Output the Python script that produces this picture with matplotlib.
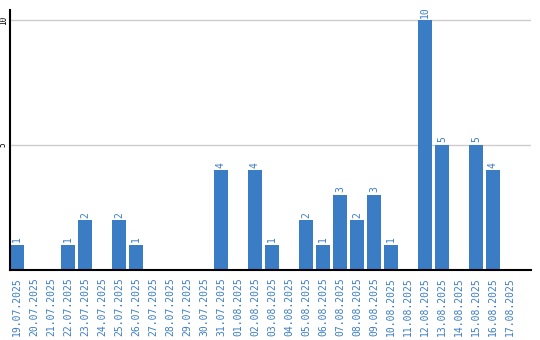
import numpy as np
import matplotlib
matplotlib.use("Agg")
import matplotlib.pyplot as plt

dates = ["19.07.2025", "20.07.2025", "21.07.2025", "22.07.2025", "23.07.2025",
         "24.07.2025", "25.07.2025", "26.07.2025", "27.07.2025", "28.07.2025",
         "29.07.2025", "30.07.2025", "31.07.2025", "01.08.2025", "02.08.2025",
         "03.08.2025", "04.08.2025", "05.08.2025", "06.08.2025", "07.08.2025",
         "08.08.2025", "09.08.2025", "10.08.2025", "11.08.2025", "12.08.2025",
         "13.08.2025", "14.08.2025", "15.08.2025", "16.08.2025", "17.08.2025"]
counts = [1, 0, 0, 1, 2, 0, 2, 1, 0, 0, 0, 0, 4, 0, 4,
          1, 0, 2, 1, 3, 2, 3, 1, 0, 10, 5, 0, 5, 4, 0]
y_ticks = [5, 10]

blue = "#3b7dc4"
W, H = 540, 340
fig = plt.figure(figsize=(W / 100, H / 100), dpi=100)
ax = fig.add_axes([10 / W, 1 - 270 / H, 521 / W, 260 / H])

x = np.arange(len(dates))
bw = 14 / 17
ax.bar(x, counts, width=bw, align="edge", color=blue, zorder=2)
for xi, c in zip(x, counts):
    if c > 0:
        ax.text(xi + bw / 2, c + 0.1, str(c), rotation=90, ha="center",
                va="bottom", color=blue, fontsize=7, family="DejaVu Sans Mono")

ax.set_xlim(0, 521 / 17)
ax.set_ylim(0, 10.4)
ax.set_yticks(y_ticks)
ax.set_yticklabels([str(v) for v in y_ticks], rotation=90, va="center",
                   fontsize=5.5, family="DejaVu Sans Mono")
ax.tick_params(axis="y", length=0, pad=1.5)
ax.grid(axis="y", color="#cccccc", lw=1, zorder=0)
ax.set_xticks(x + bw / 2)
ax.set_xticklabels(dates, rotation=90, color=blue, fontsize=7,
                   family="DejaVu Sans Mono")
ax.tick_params(axis="x", length=0, pad=5)
for s in ["top", "right"]:
    ax.spines[s].set_visible(False)
ax.spines["left"].set_linewidth(1.5)
ax.spines["bottom"].set_linewidth(1.5)

fig.savefig("out.png", dpi=100)
